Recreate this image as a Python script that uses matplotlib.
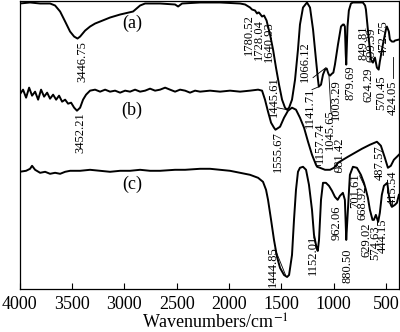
import matplotlib
matplotlib.use("Agg")
import matplotlib.pyplot as plt

plt.rcParams['font.family'] = ['Liberation Serif', 'DejaVu Serif']
plt.rcParams['mathtext.fontset'] = 'stix'

# spectrum (a): wavenumber (cm-1) / transmittance (a.u.)
wn_a = [4000, 3900, 3804, 3709, 3661, 3613, 3565, 3518, 3479, 3447, 3422, 3374, 3327, 3279,
        3231, 3136, 3040, 2916, 2849, 2801, 2658, 2515, 2486, 2448, 2276, 2085, 1894, 1846,
        1799, 1780, 1751, 1732, 1722, 1713, 1684, 1665, 1641, 1627, 1608, 1579, 1551, 1522,
        1493, 1465, 1446, 1426, 1398, 1369, 1341, 1322, 1293, 1255, 1226, 1197, 1169, 1150,
        1142, 1121, 1102, 1083, 1066, 1054, 1046, 1035, 1016, 1003, 988, 959, 930, 912, 902,
        893, 885, 880, 875, 868, 855, 835, 816, 768, 721, 700, 692, 664, 644, 625, 606, 587,
        570, 559, 530, 501, 492, 473, 463, 444, 424, 415, 377]
tr_a = [285, 286, 285, 285, 283, 277, 267, 257, 252, 250, 252, 258, 262, 265,
        267, 271, 274, 277, 283, 285, 285, 284, 282, 285, 286, 286, 285, 284,
        281, 279, 278, 275, 276, 276, 272, 273, 268, 262, 254, 239, 221, 204,
        189, 181, 179, 181, 189, 209, 239, 264, 281, 286, 281, 259, 229, 209,
        202, 204, 214, 219, 220, 216, 214, 213, 215, 216, 224, 244, 262, 264, 264,
        262, 235, 224, 240, 262, 278, 285, 286, 286, 286, 283, 279, 249, 229, 226, 231, 221,
        219, 227, 244, 259, 262, 257, 249, 247, 247, 248, 249]

# spectrum (b)
wn_b = [4000, 3967, 3938, 3909, 3881, 3852, 3823, 3795, 3766, 3737, 3709, 3680, 3651, 3623,
        3594, 3565, 3537, 3508, 3479, 3452, 3422, 3394, 3365, 3327, 3279, 3231, 3183, 3136,
        3088, 3040, 2992, 2945, 2897, 2849, 2801, 2754, 2706, 2658, 2610, 2563, 2515, 2467,
        2419, 2372, 2324, 2276, 2181, 2085, 1990, 1894, 1799, 1722, 1684, 1656, 1627, 1598,
        1570, 1556, 1512, 1474, 1436, 1398, 1360, 1322, 1283, 1245, 1207, 1169, 1158, 1131,
        1083, 1035, 997, 981, 959, 912, 864, 797, 730, 654, 587, 549, 511, 482, 454, 425,
        396, 377]
tr_b = [194, 199, 191, 201, 193, 197, 189, 199, 192, 196, 190, 194, 189, 193,
        187, 189, 185, 186, 181, 178, 181, 189, 194, 198, 199, 197, 199, 197,
        198, 196, 198, 197, 199, 197, 198, 200, 198, 199, 201, 199, 197, 199,
        198, 196, 198, 197, 198, 197, 198, 197, 198, 199, 198, 189, 177, 166,
        161, 159, 162, 171, 178, 181, 179, 171, 161, 147, 134, 124, 122, 121,
        119, 119, 121, 123, 126, 129, 132, 136, 140, 144, 147, 143, 131, 121, 123, 129,
        132, 134]

# spectrum (c)
wn_c = [4000, 3938, 3900, 3881, 3852, 3804, 3756, 3709, 3661, 3613, 3565, 3518, 3422, 3327,
        3231, 3136, 3040, 2945, 2849, 2754, 2658, 2515, 2419, 2276, 2181, 2085, 1990, 1894,
        1799, 1722, 1675, 1646, 1627, 1598, 1570, 1541, 1512, 1474, 1445, 1426, 1398, 1379,
        1360, 1341, 1322, 1293, 1264, 1236, 1207, 1188, 1165, 1152, 1140, 1121, 1102, 1074,
        1045, 1016, 988, 962, 940, 912, 893, 883, 880, 864, 845, 816, 778, 740, 711, 692,
        673, 654, 629, 616, 597, 575, 559, 540, 520, 488, 473, 454, 444, 415, 396, 377]
tr_c = [117, 118, 120, 123, 119, 116, 117, 115, 116, 115, 117, 118, 118, 119,
        118, 117, 118, 118, 119, 118, 118, 119, 119, 120, 120, 119, 118, 116,
        114, 111, 107, 99, 89, 69, 49, 32, 21, 14, 12, 14, 34, 69,
        99, 117, 121, 122, 119, 104, 79, 54, 42, 38, 49, 89, 106, 106,
        103, 98, 92, 89, 93, 96, 89, 59, 49, 79, 114, 122, 121, 114, 106, 99,
        91, 79, 69, 69, 74, 67, 76, 94, 103, 106, 94, 84, 82, 84, 86, 94]

# peak labels: text, wavenumber, transmittance of the text's lower end
peak_labels = [
    ("3446.75", 3403, 207), ("3452.21", 3422, 136),
    ("1780.52", 1808, 234), ("1728.04", 1713, 229), ("1640.93", 1617, 227),
    ("1066.12", 1273, 207), ("1141.71", 1226, 161), ("1157.74", 1131, 126),
    ("1045.65", 1035, 139), ("1003.29", 978, 169), ("879.69", 836, 189),
    ("849.81", 711, 229), ("699.39", 635, 227), ("472.75", 520, 234),
    ("624.29", 664, 187), ("570.45", 549, 179), ("424.05", 432, 174),
    ("1445.61", 1569, 172), ("1555.67", 1531, 117), ("981.42", 940, 117),
    ("962.06", 969, 49), ("880.50", 864, 6), ("1444.85", 1579, 2),
    ("1152.01", 1197, 14), ("701.61", 797, 81), ("668.92", 721, 69),
    ("629.02", 683, 32), ("574.63", 606, 29), ("444.15", 530, 36),
    ("487.57", 559, 109), ("415.54", 432, 84),
]

# leader lines: (wn1, tr1, wn2, tr2)
leaders = [
    (1197, 211, 1074, 221),
    (1207, 199, 1140, 202),
    (1026, 177, 1045, 213),
    (1541, 181, 1446, 179),
    (432, 211, 432, 232),
    (1169, 124, 1131, 124),
    (969, 117, 940, 117),
    (1560, 40, 1460, 14),
    (1190, 52, 1160, 39),
    (752, 113, 711, 104),
]

curve_tags = [("(a)", 2926, 265), ("(b)", 2926, 178), ("(c)", 2926, 104)]

fig = plt.figure(figsize=(4.0, 3.32), dpi=100)
ax = fig.add_axes([0.049, 0.1295, 0.9485, 0.866])

for wn, tr in [(wn_a, tr_a), (wn_b, tr_b), (wn_c, tr_c)]:
    ax.plot(wn, tr, color='black', lw=1.4)

for txt, x, y in peak_labels:
    ax.text(x, y, txt, rotation=90, ha='center', va='bottom', fontsize=9)

for x1, y1, x2, y2 in leaders:
    ax.plot([x1, x2], [y1, y2], color='black', lw=0.6)

for txt, x, y in curve_tags:
    ax.text(x, y, txt, ha='center', va='center', fontsize=13)

ax.set_xlim(4000, 376)
ax.set_ylim(0, 287)
ax.set_xticks([4000, 3500, 3000, 2500, 2000, 1500, 1000, 500])
ax.set_yticks([])
ax.tick_params(axis='x', direction='in', length=4, width=0.8, labelsize=13, pad=5)
ax.set_xlabel("Wavenumbers/cm$^{-1}$", fontsize=13, labelpad=1)
ax.xaxis.set_label_coords((215 - 19.5) / 379.5, -0.085)
for s in ax.spines.values():
    s.set_linewidth(0.9)

plt.savefig("out.png", dpi=100)
plt.close()
